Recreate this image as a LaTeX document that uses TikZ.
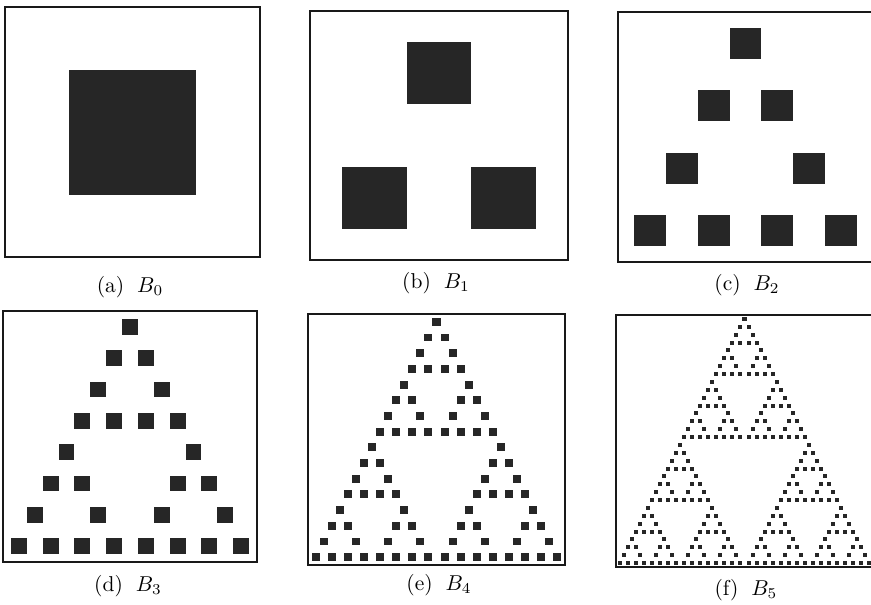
\documentclass[tikz,border=0pt]{standalone}
\usepackage{tikz}
\definecolor{ink}{gray}{0.15}
\tikzset{
  frame/.style  = {draw=black!90, line width=1.2pt},
  cell/.style   = {fill=ink},
  subcap/.style = {inner sep=0pt, anchor=base, scale=2.15},
}
% B_n: the first 2^n rows of Pascal's triangle mod 2, one square per odd entry
\newcommand\pascalbox[5]{% #1 = n, (#2,#3) top left, (#4,#5) bottom right
  \draw[frame] (#2,#3) rectangle (#4,#5);
  \pgfmathtruncatemacro\nrow{2^#1}
  \pgfmathtruncatemacro\lastrow{\nrow-1}
  \pgfmathsetmacro\sx{(#4-#2)/\nrow}
  \pgfmathsetmacro\sy{(#5-#3)/\nrow}
  \pgfmathsetmacro\cx{(#2+#4)/2}
  \foreach \r in {0,...,\lastrow}{
    \foreach \k in {0,...,\r}{
      % C(r,k) is odd iff every bit of k is also a bit of r
      \pgfmathtruncatemacro\bad{mod(\k,2)*(1-mod(\r,2))
        + mod(floor(\k/2),2)*(1-mod(floor(\r/2),2))
        + mod(floor(\k/4),2)*(1-mod(floor(\r/4),2))
        + mod(floor(\k/8),2)*(1-mod(floor(\r/8),2))
        + mod(floor(\k/16),2)*(1-mod(floor(\r/16),2))}
      \ifnum\bad=0
        \fill[cell] ({\cx+(\k-\r/2)*\sx-\sx/4},{#3+(\r+0.5)*\sy-\sy/4})
          rectangle ++({\sx/2},{\sy/2});
      \fi
    }
  }
}

\begin{document}
\begin{tikzpicture}[x=1pt, y=-1pt]
  \useasboundingbox (0,0) rectangle (871,605);
  % top row
  \pascalbox{0}{5}{7}{260}{257}
  \pascalbox{1}{310}{11}{568}{260}
  \pascalbox{2}{618}{12}{873}{262}
  % bottom row
  \pascalbox{3}{3}{311}{257}{562}
  \pascalbox{4}{308}{314}{565}{565}
  \pascalbox{5}{616}{315}{873}{567}
  % captions
  \node[subcap] (capa) at (130,292) {(a)\hspace{0.6em}$B_0$};
  \node[subcap] (capb) at (436,288) {(b)\hspace{0.6em}$B_1$};
  \node[subcap] (capc) at (747,290) {(c)\hspace{0.6em}$B_2$};
  \node[subcap] (capd) at (128,591) {(d)\hspace{0.6em}$B_3$};
  \node[subcap] (cape) at (439,590) {(e)\hspace{0.6em}$B_4$};
  \node[subcap] (capf) at (746,595) {(f)\hspace{0.6em}$B_5$};
\end{tikzpicture}
\end{document}
